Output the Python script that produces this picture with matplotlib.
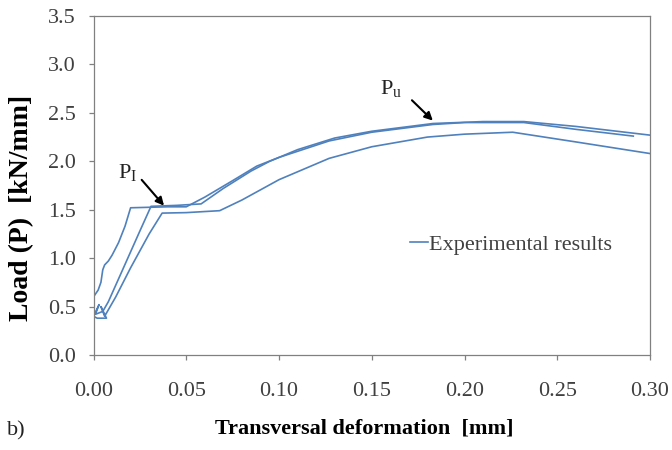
import matplotlib
matplotlib.use("Agg")
import matplotlib.pyplot as plt

# Curve A
xa = [0, 0, 0.0025, 0.004, 0.005, 0.006, 0.008, 0.010, 0.0135, 0.017, 0.020, 0.030, 0.040, 0.050,
      0.060, 0.075, 0.088, 0.100, 0.127, 0.150, 0.183, 0.200, 0.232, 0.260, 0.291]
ya = [0, 0.60, 0.67, 0.75, 0.88, 0.93, 0.97, 1.03, 1.16, 1.33, 1.52, 1.525, 1.53, 1.53,
      1.63, 1.80, 1.95, 2.04, 2.21, 2.30, 2.38, 2.40, 2.40, 2.33, 2.26]
# Curve B
xb = [0, 0, 0.003, 0.001, 0.005, 0.008, 0.015, 0.025, 0.031, 0.045, 0.058, 0.070, 0.085, 0.095,
      0.110, 0.130, 0.150, 0.183, 0.210, 0.232, 0.260, 0.300]
yb = [0, 0.40, 0.52, 0.42, 0.45, 0.55, 0.85, 1.28, 1.535, 1.545, 1.56, 1.72, 1.90, 2.00,
      2.12, 2.24, 2.31, 2.39, 2.41, 2.41, 2.36, 2.27]
# Curve C
xc = [0, 0.002, 0.007, 0.004, 0.006, 0.012, 0.020, 0.030, 0.037, 0.050, 0.068, 0.080, 0.100,
      0.127, 0.150, 0.180, 0.200, 0.226, 0.260, 0.300]
yc = [0.40, 0.38, 0.38, 0.50, 0.40, 0.60, 0.90, 1.25, 1.465, 1.47, 1.49, 1.60, 1.81,
      2.03, 2.15, 2.25, 2.28, 2.30, 2.20, 2.08]

xticks = [0.00, 0.05, 0.10, 0.15, 0.20, 0.25, 0.30]
yticks = [0.0, 0.5, 1.0, 1.5, 2.0, 2.5, 3.0, 3.5]

plt.rcParams['font.family'] = ['Liberation Serif', 'DejaVu Serif']

W, H = 672, 450
fig = plt.figure(figsize=(W / 100, H / 100), dpi=100)
ax = fig.add_axes([93.5 / W, 1 - 355 / H, 556.5 / W, 339 / H])

col = '#4F81BD'
ax.plot(xa, ya, color=col, lw=1.2, label='Experimental results')
ax.plot(xb, yb, color=col, lw=1.2)
ax.plot(xc, yc, color=col, lw=1.2)

ax.set_xlim(0, 0.30)
ax.set_ylim(0, 3.5)
ax.set_xticks(xticks)
ax.set_xticklabels([f"{v:.2f}" for v in xticks])
ax.set_yticks(yticks)
ax.set_yticklabels([f"{v:.1f}" for v in yticks])
for s in ax.spines.values():
    s.set_color('#808080')
    s.set_linewidth(0.9)
ax.tick_params(direction='out', length=3.6, width=0.9, color='#808080', labelsize=16,
               labelcolor='#404040')
ax.tick_params(axis='x', pad=16)
ax.tick_params(axis='y', pad=9)

ax.set_xlabel('Transversal deformation  [mm]', fontsize=16, fontweight='bold')
ax.xaxis.set_label_coords((364 - 93.5) / 556.5, (355 - 428) / 339)
ax.xaxis.label.set_va('center')
ax.set_ylabel('Load (P)  [kN/mm]', fontsize=20, fontweight='bold')
ax.yaxis.set_label_coords((22 - 93.5) / 556.5, (355 - 208) / 339)
ax.yaxis.label.set_va('center')

ax.legend(loc='center left', bbox_to_anchor=((410 - 93.5) / 556.5, (355 - 245) / 339),
          frameon=False, fontsize=16, handlelength=0.82, handletextpad=0.05,
          borderaxespad=0, borderpad=0, labelcolor='#404040')

ax.annotate('', xy=(0.039, 1.52), xytext=(0.025, 1.83),
            arrowprops=dict(arrowstyle='-|>', color='black', lw=1.5, mutation_scale=12))
ax.text(0.0132, 1.88, r'P$_\mathregular{I}$', fontsize=16, ha='left', va='center', color='#222222')
ax.annotate('', xy=(0.184, 2.40), xytext=(0.1706, 2.65),
            arrowprops=dict(arrowstyle='-|>', color='black', lw=1.5, mutation_scale=12))
ax.text(0.1545, 2.74, r'P$_\mathregular{u}$', fontsize=16, ha='left', va='center', color='#222222')

fig.text(7 / W, 1 - 431 / H, 'b)', fontsize=16, ha='left', va='center', color='#222222')

fig.savefig('out.png', dpi=100)
